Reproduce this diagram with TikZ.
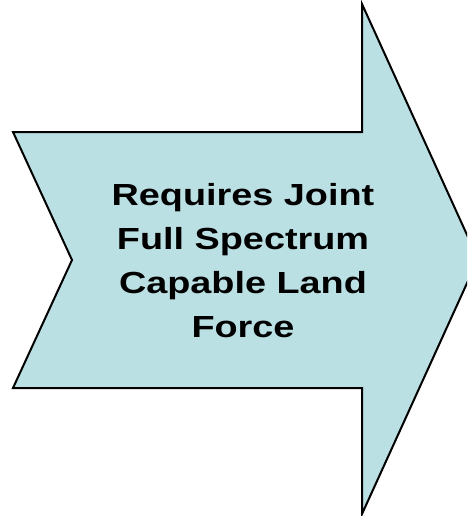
\documentclass[tikz,border=0pt]{standalone}
\usepackage{fontspec}
\setmainfont{Liberation Sans}
\definecolor{arrowfill}{HTML}{BBE0E3}
\newcommand{\wideline}[1]{\scalebox{1.24}[1]{#1}}
\begin{document}
\begin{tikzpicture}[x=1pt,y=-1pt,
  arrowshape/.style={draw=black,line width=2pt,fill=arrowfill,line join=miter},
  label/.style={align=center,font=\fontsize{30.5}{44}\selectfont\bfseries,inner sep=0pt}]
\useasboundingbox (0,0) rectangle (467,516);
\clip (0,0) rectangle (467,516);
\draw[arrowshape] (13,132) -- (362,132) -- (362,4) -- (478,259) -- (362,514) -- (362,388) -- (13,388) -- (72,260) -- cycle;
\node[label] (t) at (243,261) {\wideline{Requires Joint}\\\wideline{Full Spectrum}\\\wideline{Capable Land}\\\wideline{Force}};
\end{tikzpicture}
\end{document}
